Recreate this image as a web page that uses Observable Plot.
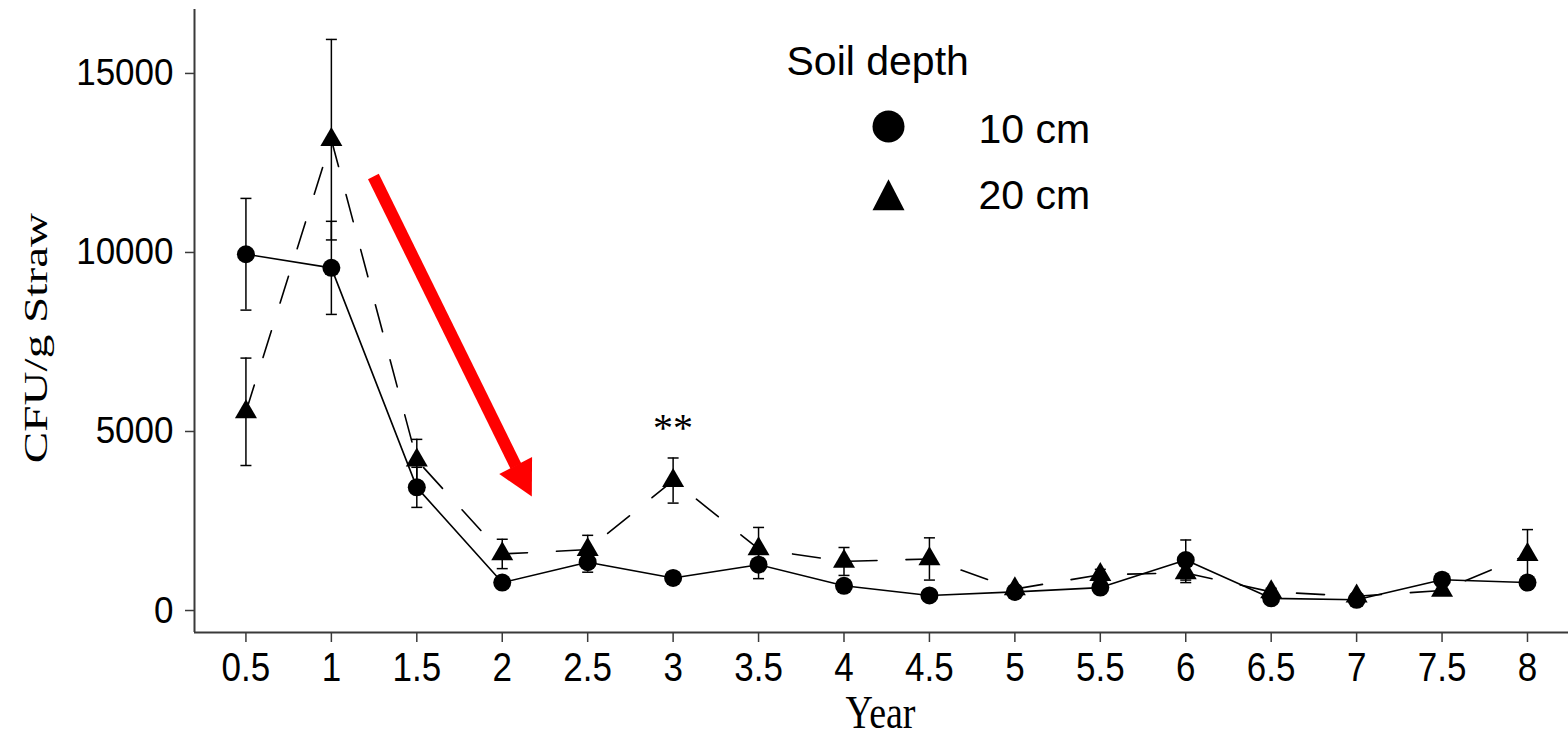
<!DOCTYPE html>
<html>
<head>
<meta charset="utf-8">
<script src="https://cdn.jsdelivr.net/npm/d3@7"></script>
<script src="https://cdn.jsdelivr.net/npm/@observablehq/plot@0.6"></script>
<style>
  html, body { margin: 0; padding: 0; background: #ffffff; }
  #chart { width: 1568px; height: 739px; overflow: hidden; }
</style>
</head>
<body>
<div id="chart"></div>
<script>
// ---- data ----
const years = [0.5, 1, 1.5, 2, 2.5, 3, 3.5, 4, 4.5, 5, 5.5, 6, 6.5, 7, 7.5, 8];
const cfu10 = [9950, 9570, 3440, 780, 1350, 910, 1280, 690, 420, 520, 640, 1410, 340, 300, 860, 780];
const se10  = [1560, 1300, 560, 150, 280, 120, 390, 150, 100, 80, 120, 560, 80, 60, 120, 180];
const cfu20 = [5550, 13150, 4200, 1580, 1700, 3630, 1720, 1370, 1440, 600, 1000, 1050, 520, 400, 560, 1560];
const se20  = [1500, 2800, 580, 410, 400, 630, 600, 390, 590, 100, 150, 270, 100, 80, 120, 700];
const yTicks = [0, 5000, 10000, 15000];
const seriesNames = ["10 cm", "20 cm"];
const legendTitle = "Soil depth";
const xTitle = "Year";
const yTitle = "CFU/g Straw";
const sigYear = [3];
const sigCFU = [5100];
const sigLabel = ["**"];
// red trend arrow (annotation) in data units
const arrowYear = [1.246, 2.08];
const arrowCFU = [12122, 4030];
const arrowHeadYear = [2.11];
const arrowHeadCFU = [3762];

// ---- tables ----
const d10 = years.map((x, i) => ({year: x, cfu: cfu10[i], lo: cfu10[i] - se10[i], hi: cfu10[i] + se10[i]}));
const d20 = years.map((x, i) => ({year: x, cfu: cfu20[i], lo: cfu20[i] - se20[i], hi: cfu20[i] + se20[i]}));
const caps = [...d10, ...d20].flatMap(d => [{year: d.year, v: d.lo}, {year: d.year, v: d.hi}]);
const arrow = arrowYear.map((x, i) => ({year: x, cfu: arrowCFU[i]}));

// ---- symbols ----
const capSymbol = {draw(ctx) { ctx.moveTo(-5.5, 0); ctx.lineTo(5.5, 0); }};
const triSymbol = (b, h) => ({draw(ctx) {
  ctx.moveTo(0, -2 * h / 3); ctx.lineTo(b / 2, h / 3); ctx.lineTo(-b / 2, h / 3); ctx.closePath();
}});

// ---- layout ----
const xMin = 0.199, xMax = 8.24;
const yMin = -614, yMax = 16786;
const axisColor = "#3a3a3a";
const serif = "'Liberation Serif', 'Times New Roman', serif";

const svg = Plot.plot({
  width: 1568,
  height: 739,
  marginLeft: 194,
  marginRight: 0,
  marginTop: 9,
  marginBottom: 107,
  x: {domain: [xMin, xMax]},
  y: {domain: [yMin, yMax]},
  style: {fontFamily: "'Liberation Sans', Arial, sans-serif", background: "#ffffff", color: "#000"},
  marks: [
    Plot.ruleX([xMin], {stroke: axisColor, strokeWidth: 2}),
    Plot.ruleY([yMin], {stroke: axisColor, strokeWidth: 2}),
    Plot.axisX({ticks: years, tickSize: 10, tickPadding: 10, fontSize: 35, tickFormat: d => String(d),
      label: null, stroke: axisColor, strokeWidth: 1.5, fill: "#000"}),
    Plot.axisY({ticks: yTicks, tickSize: 9, tickPadding: 12, fontSize: 35, tickFormat: d => String(d),
      label: null, stroke: axisColor, strokeWidth: 1.5, fill: "#000"}),

    // lines
    Plot.line(d20, {x: "year", y: "cfu", stroke: "#000", strokeWidth: 1.6, strokeDasharray: "28,29"}),
    Plot.line(d10, {x: "year", y: "cfu", stroke: "#000", strokeWidth: 1.6}),

    // error bars
    Plot.ruleX(d10, {x: "year", y1: "lo", y2: "hi", stroke: "#000", strokeWidth: 1.5}),
    Plot.ruleX(d20, {x: "year", y1: "lo", y2: "hi", stroke: "#000", strokeWidth: 1.5}),
    Plot.dot(caps, {x: "year", y: "v", symbol: capSymbol, stroke: "#000", strokeWidth: 1.5, fill: "none"}),

    // markers
    Plot.dot(d10, {x: "year", y: "cfu", r: 9, fill: "#000", stroke: "none"}),
    Plot.dot(d20, {x: "year", y: "cfu", symbol: triSymbol(22, 19), fill: "#000", stroke: "none"}),

    // significance
    Plot.text(sigLabel, {x: () => sigYear[0], y: () => sigCFU[0], text: d => d,
      fontFamily: serif, fontSize: 40, fill: "#000"}),

    // legend
    Plot.text([legendTitle], {frameAnchor: "top-left", dx: 592, dy: 52, text: d => d,
      textAnchor: "start", lineAnchor: "middle", fontSize: 41, fill: "#000"}),
    Plot.dot([0], {frameAnchor: "top-left", dx: 694, dy: 117, r: 16, fill: "#000", stroke: "none"}),
    Plot.dot([0], {frameAnchor: "top-left", dx: 694, dy: 190.4, symbol: triSymbol(32, 31), fill: "#000", stroke: "none"}),
    Plot.text([seriesNames[0]], {frameAnchor: "top-left", dx: 784, dy: 120, text: d => d,
      textAnchor: "start", lineAnchor: "middle", fontSize: 41, fill: "#000"}),
    Plot.text([seriesNames[1]], {frameAnchor: "top-left", dx: 784, dy: 186.6, text: d => d,
      textAnchor: "start", lineAnchor: "middle", fontSize: 41, fill: "#000"}),

    // axis titles
    Plot.text([xTitle], {frameAnchor: "bottom-left", dx: 651, dy: 81, text: d => d, textAnchor: "start",
      lineAnchor: "middle", fontFamily: serif, fontSize: 38, fill: "#000"}),
    Plot.text([yTitle], {frameAnchor: "top-left", dx: -158, dy: 328.5, text: d => d, rotate: -90,
      textAnchor: "middle", lineAnchor: "middle", fontFamily: serif, fontSize: 33, fill: "#000"}),

    // red trend arrow
    Plot.line(arrow, {x: "year", y: "cfu", stroke: "#ff0000", strokeWidth: 12, strokeLinecap: "butt"}),
    Plot.dot(arrowHeadYear.map((x, i) => ({year: x, cfu: arrowHeadCFU[i]})),
      {x: "year", y: "cfu", symbol: triSymbol(37, 35), rotate: 152.5, fill: "#ff0000", stroke: "none"})
  ]
});

// stretch the text glyphs like the reference's narrow fonts
const stretch = (sel, s) => sel.each(function() {
  const t = this.getAttribute("transform") || "";
  this.setAttribute("transform", t + " " + s);
});
const root = d3.select(svg);
stretch(root.selectAll('g[aria-label="x-axis tick label"] text'), "scale(1,1.15)");
stretch(root.selectAll('g[aria-label="y-axis tick label"] text'), "scale(1,1.07)");
stretch(root.selectAll("text").filter(function() { return this.textContent === xTitle; }), "scale(1,1.2)");
stretch(root.selectAll("text").filter(function() { return this.textContent === yTitle; }), "scale(1.43,1)");

document.getElementById("chart").appendChild(svg);
</script>
</body>
</html>
